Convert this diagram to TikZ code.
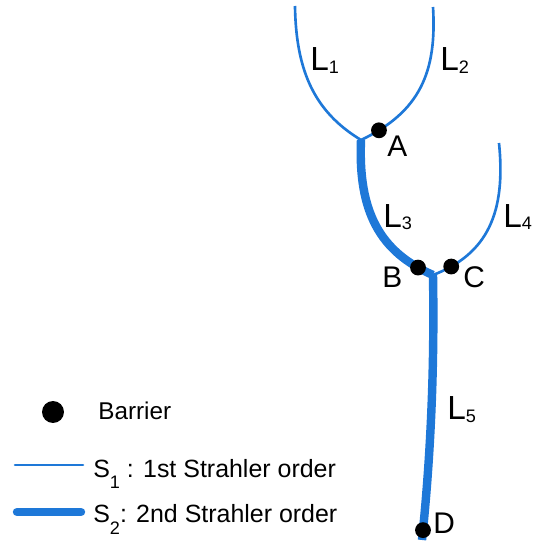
\documentclass[tikz,border=0pt]{standalone}
\usepackage{fontspec}
\setmainfont{Liberation Sans}
\usepackage{tikz}
\usetikzlibrary{positioning}
\definecolor{streamBlue}{HTML}{1E78D8}
\definecolor{barrierBlack}{HTML}{000000}
\newcommand{\lowidx}[2]{\raisebox{#1}{\fontsize{10.3}{12}\selectfont #2}}

\begin{document}
\begin{tikzpicture}[x=0.02cm,y=0.02cm,
  order1/.style={streamBlue,line width=1.5pt},
  order2/.style={streamBlue,line width=4.8pt},
  barrier/.style={circle,fill=barrierBlack,inner sep=0pt,minimum size=9pt},
  reach/.style={anchor=base west,inner sep=0pt,font=\fontsize{19}{21}\selectfont},
  point/.style={anchor=base west,inner sep=0pt,font=\fontsize{17}{19}\selectfont},
  key/.style={anchor=base west,inner sep=0pt,font=\fontsize{14.2}{16}\selectfont}]
\useasboundingbox (0,0) rectangle (532,542);
% sources, confluences, outlet
\coordinate (top1) at (295,536);
\coordinate (top2) at (433,535);
\coordinate (top4) at (499,399);
\coordinate (jA) at (361,402);
\coordinate (jB) at (433,267);
\coordinate (mouth) at (422,2);
% first order reaches
\draw[order1] (top1) .. controls (296,470) and (315,430) .. (jA);
\draw[order1] (top2) .. controls (437,470) and (420,430) .. (jA)
  node[pos=0.89,barrier] (A) {};
\draw[order1] (top4) .. controls (506,330) and (488,288) .. (jB)
  node[pos=0.88,barrier] (C) {};
% second order reaches
\draw[order2] (jB) .. controls (435,150) and (428,60) .. (mouth)
  node[pos=0.945,barrier] (D) {};
\draw[order2] (jA) .. controls (358,330) and (380,290) .. (jB)
  node[pos=0.9,barrier] (B) {};
% labels
\node[reach] (l1) at (310,471) {L\lowidx{-1.7pt}{1}};
\node[reach] (l2) at (440,471) {L\lowidx{-1.7pt}{2}};
\node[reach] (l3) at (383,315) {L\lowidx{-1.7pt}{3}};
\node[reach] (l4) at (503,315) {L\lowidx{-1.7pt}{4}};
\node[reach] (l5) at (447,122) {L\lowidx{-1.7pt}{5}};
\node[point] (labA) at (387,385) {A};
\node[point] (labB) at (382,255) {B};
\node[point] (labC) at (463,255) {C};
\node[point] (labD) at (433,9) {D};
% legend
\node[barrier,minimum size=12.5pt] (keyDot) at (53,130) {};
\node[key,font=\fontsize{13.8}{16}\selectfont] (keyBarrier) at (98,122) {Barrier};
\coordinate (k1a) at (15,77);
\coordinate (k1b) at (83,77);
\draw[order1,line cap=round] (k1a) -- (k1b);
\node[key] (keyS1) at (93,65) {S\lowidx{-6.8pt}{1} : 1st Strahler order};
\coordinate (k2a) at (17,30);
\coordinate (k2b) at (81,30);
\draw[order2,line cap=round] (k2a) -- (k2b);
\node[key] (keyS2) at (93,19) {S\lowidx{-6.8pt}{2}: 2nd Strahler order};
\end{tikzpicture}
\end{document}
